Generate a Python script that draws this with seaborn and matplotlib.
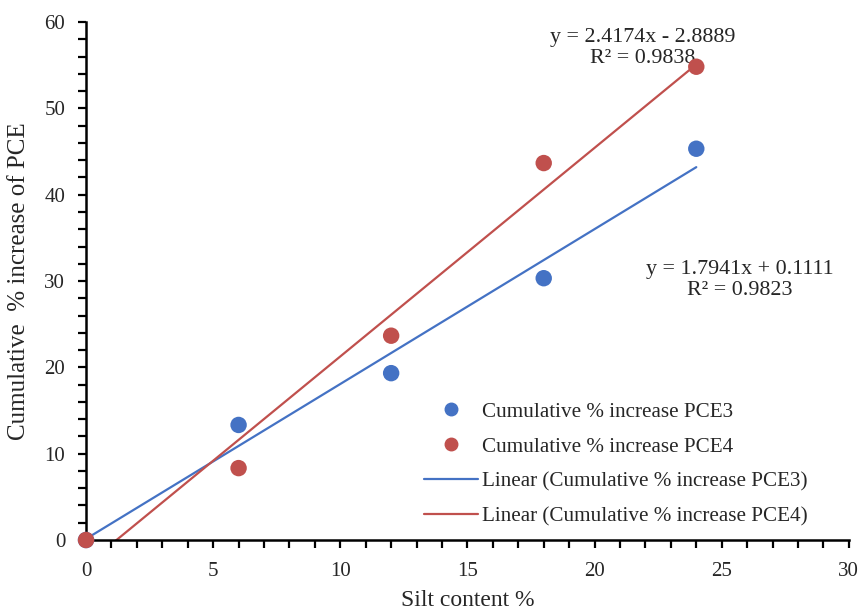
import numpy as np
import pandas as pd
import matplotlib
matplotlib.use("Agg")
import matplotlib.pyplot as plt
from matplotlib.ticker import MultipleLocator
from matplotlib.lines import Line2D
import seaborn as sns

silt = [0, 6, 12, 18, 24]
pce3 = [0, 13.33, 19.33, 30.33, 45.33]
pce4 = [0, 8.33, 23.67, 43.67, 54.83]
labels_pts = ["Cumulative % increase PCE3", "Cumulative % increase PCE4"]
labels_lin = ["Linear (Cumulative % increase PCE3)", "Linear (Cumulative % increase PCE4)"]
eq3 = ["y = 1.7941x + 0.1111", "R\u00b2 = 0.9823"]
eq4 = ["y = 2.4174x - 2.8889", "R\u00b2 = 0.9838"]
xticks = [0, 5, 10, 15, 20, 25, 30]
yticks = [0, 10, 20, 30, 40, 50, 60]

sns.set_style("ticks")
plt.rcParams['font.family'] = ['Liberation Serif', 'DejaVu Serif']

blue = "#4472C4"
red = "#C0504D"

fig = plt.figure(figsize=(8.61, 6.14), dpi=100)
ax = fig.add_axes([0.0999, 0.1205, 0.886, 0.8435])

df3 = pd.DataFrame({"x": silt, "y": pce3})
df4 = pd.DataFrame({"x": silt, "y": pce4})

sns.regplot(data=df3, x="x", y="y", scatter=False, ci=None, truncate=True,
            line_kws=dict(color=blue, lw=1.6), ax=ax)
sns.regplot(data=df4, x="x", y="y", scatter=False, ci=None, truncate=True,
            line_kws=dict(color=red, lw=1.6), ax=ax)
sns.scatterplot(data=df3, x="x", y="y", color=blue, s=140, edgecolor="none",
                ax=ax, clip_on=False, zorder=5)
sns.scatterplot(data=df4, x="x", y="y", color=red, s=140, edgecolor="none",
                ax=ax, clip_on=False, zorder=6)

ax.set_xlim(0, 30)
ax.set_ylim(0, 60)
ax.set_xticks(xticks)
ax.set_yticks(yticks)
ax.xaxis.set_minor_locator(MultipleLocator(1))
ax.yaxis.set_minor_locator(MultipleLocator(2))
ax.tick_params(which="both", direction="out", length=6, width=1.6, color="black",
               labelsize=15)
ax.tick_params(axis="x", which="major", pad=10)
ax.tick_params(axis="y", which="major", pad=9)
for s in ["left", "bottom"]:
    ax.spines[s].set_linewidth(1.8)
    ax.spines[s].set_color("black")
sns.despine(ax=ax)

ax.set_xlabel("Silt content %", fontsize=17, labelpad=6)
ax.set_ylabel("Cumulative  % increase of PCE", fontsize=18, labelpad=10)

ax.text(21.9, 57.0, eq4[0] + "\n" + eq4[1], ha="center", va="center",
        fontsize=15.8, linespacing=1.15)
ax.text(25.7, 30.1, eq3[0] + "\n" + eq3[1], ha="center", va="center",
        fontsize=15.8, linespacing=1.15)

handles = [
    Line2D([], [], ls="none", marker="o", color=blue, markersize=9),
    Line2D([], [], ls="none", marker="o", color=red, markersize=9),
    Line2D([], [], color=blue, lw=1.6),
    Line2D([], [], color=red, lw=1.6),
]
ax.legend(handles, labels_pts + labels_lin, loc="lower right",
          bbox_to_anchor=(0.971, -0.011), frameon=False, fontsize=15.2,
          handlelength=2.55, handletextpad=0.2, labelspacing=0.72)

fig.savefig("out.png", dpi=100)
